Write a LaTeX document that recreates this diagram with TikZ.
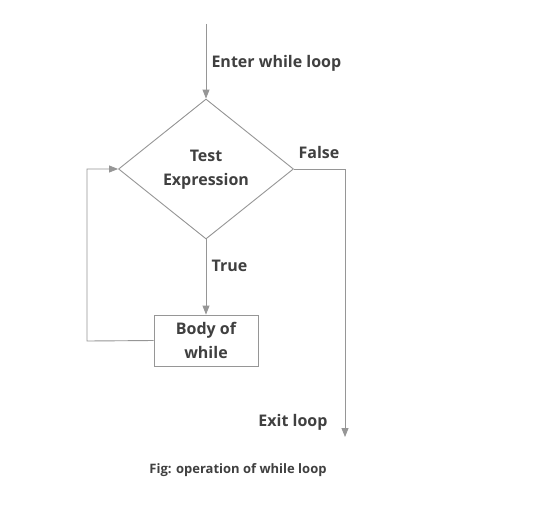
\documentclass[tikz,border=0pt]{standalone}
\usepackage{fontspec}
\setmainfont{Open Sans}
\usetikzlibrary{shapes.geometric,arrows.meta}
\definecolor{linegray}{RGB}{150,150,150}
\definecolor{textgray}{RGB}{64,64,64}

\begin{document}
\begin{tikzpicture}[x=1pt,y=-1pt,
    every node/.style={text=textgray,font=\bfseries\fontsize{16}{24}\selectfont},
    decision/.style={diamond,draw=linegray,line width=0.9pt,inner sep=0pt,
      minimum width=175pt,minimum height=140pt,align=center},
    block/.style={rectangle,draw=linegray,line width=0.9pt,
      minimum width=104pt,minimum height=51pt,align=center,inner sep=0pt},
    flow/.style={draw=linegray,line width=0.9pt,-{Triangle[length=9pt,width=7pt,fill=linegray]}}]
  \useasboundingbox[fill=white] (0,0) rectangle (534,527);
  \coordinate (start) at (206,24);
  \node[decision] (test) at (206,169) {\raisebox{-3pt}{\begin{tabular}{@{}c@{}}Test\\Expression\end{tabular}}};
  \node[block] (body) at (206,340.5) {Body of\\while};
  \coordinate (exit) at (345,437);
  \coordinate (back) at (87,341);
  % connectors
  \draw[flow] (start) -- (test.north);
  \draw[flow] (test.south) -- (body.north);
  \draw[flow] (test.east) -| (exit);
  \draw[flow] (body.west) -- (back) |- (test.west);
  % labels
  \node[anchor=west] (enterlbl) at (208,63) {Enter while loop};
  \node (falselbl) at (319,152) {False};
  \node[anchor=west] (truelbl) at (208,266) {True};
  \node[anchor=east] (exitlbl) at (331,422) {Exit loop};
  \node[font=\bfseries\fontsize{13}{15}\selectfont] (caption) at (238,470) {Fig: operation of while loop};
\end{tikzpicture}
\end{document}
